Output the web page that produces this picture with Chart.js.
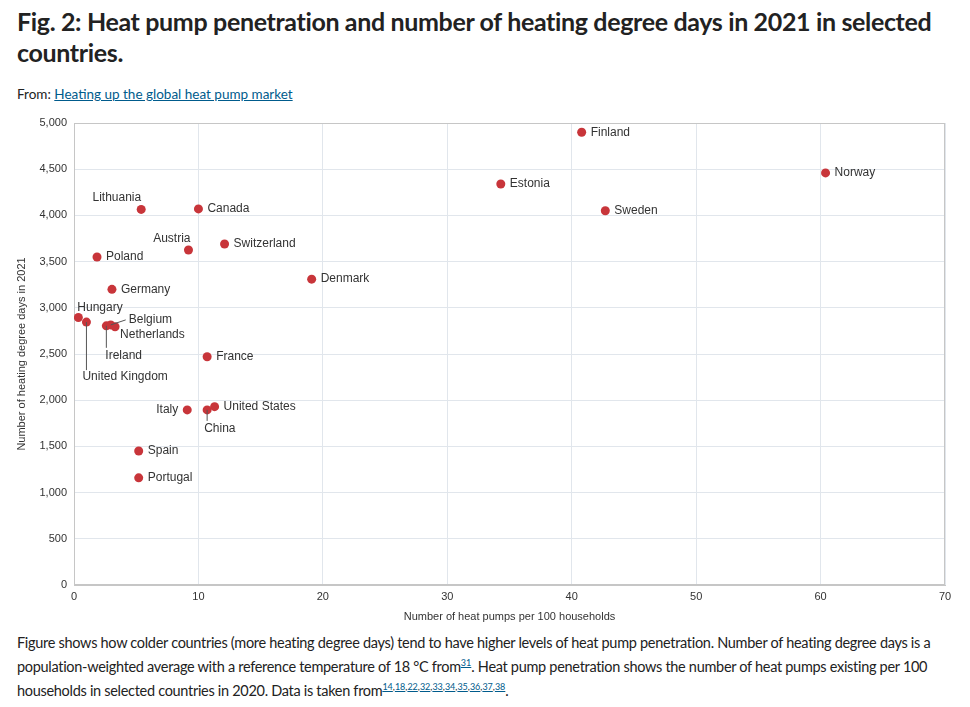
<!DOCTYPE html>
<html>
<head>
<meta charset="utf-8">
<script src="https://cdn.jsdelivr.net/npm/chart.js"></script>
<style>
  body {
    margin: 0;
    background: #fff;
    font-family: 'Lato', sans-serif;
    color: #222;
    width: 970px;
    height: 707px;
    position: relative;
    overflow: hidden;
  }
  h1 {
    position: absolute;
    left: 17px;
    top: 6px;
    margin: 0;
    width: 940px;
    font-size: 25px;
    line-height: 31px;
    font-weight: 700;
    letter-spacing: -0.35px;
  }
  .from {
    position: absolute;
    left: 17px;
    top: 86px;
    font-size: 13.5px;
  }
  a { color: #005b8c; }
  #wrap {
    position: absolute;
    left: 0;
    top: 112px;
    width: 960px;
    height: 514px;
  }
  .caption {
    position: absolute;
    left: 17px;
    top: 631px;
    width: 945px;
    font-size: 14.5px;
    line-height: 24px;
    letter-spacing: -0.3px;
    margin: 0;
  }
  sup { font-size: 9px; line-height: 0; letter-spacing: 0; }
</style>
</head>
<body>
  <h1>Fig. 2: Heat pump penetration and number of heating degree days in 2021 in selected countries.</h1>
  <div class="from">From: <a href="#">Heating up the global heat pump market</a></div>
  <div id="wrap"><canvas id="myChart"></canvas></div>
  <p class="caption">Figure shows how colder countries (more heating degree days) tend to have higher levels of heat pump penetration. Number of heating degree days is a population-weighted average with a reference temperature of 18 °C from<sup><a href="#">31</a></sup>. Heat pump penetration shows the number of heat pumps existing per 100 households in selected countries in 2020. Data is taken from<sup><a href="#">14</a>,<a href="#">18</a>,<a href="#">22</a>,<a href="#">32</a>,<a href="#">33</a>,<a href="#">34</a>,<a href="#">35</a>,<a href="#">36</a>,<a href="#">37</a>,<a href="#">38</a></sup>.</p>

<script>
var countries = ['Finland', 'Norway', 'Estonia', 'Sweden', 'Lithuania', 'Canada', 'Switzerland', 'Austria',
  'Poland', 'Denmark', 'Germany', 'Hungary', 'United Kingdom', 'Ireland', 'Belgium', 'Netherlands',
  'France', 'Italy', 'China', 'United States', 'Spain', 'Portugal'];
var heatPumps = [40.8, 60.4, 34.3, 42.7, 5.4, 10.0, 12.1, 9.2,
  1.85, 19.1, 3.05, 0.35, 1.0, 2.6, 2.95, 3.3,
  10.7, 9.1, 10.7, 11.3, 5.2, 5.2];
var degreeDays = [4900, 4460, 4340, 4050, 4065, 4070, 3690, 3625,
  3550, 3310, 3200, 2895, 2845, 2805, 2815, 2795,
  2470, 1895, 1895, 1930, 1450, 1160];

// label offsets (px) from the point; default is to the right
var placement = {
  'Lithuania': { dx: 0, dy: -12, align: 'right' },
  'Austria': { dx: 2, dy: -11, align: 'right' },
  'Hungary': { dx: -1, dy: -10, align: 'left' },
  'United Kingdom': { dx: -4, dy: 55, align: 'left', line: [0, 48] },
  'Ireland': { dx: -1, dy: 30, align: 'left', line: [0, 22] },
  'Belgium': { dx: 18, dy: -5, align: 'left', line: [15, -5] },
  'Netherlands': { dx: 5, dy: 8, align: 'left' },
  'Italy': { dx: -9, dy: 0, align: 'right' },
  'China': { dx: -3, dy: 19, align: 'left', line: [0, 11] }
};

var points = countries.map(function (c, i) { return { x: heatPumps[i], y: degreeDays[i] }; });

var labelPlugin = {
  id: 'countryLabels',
  afterDatasetsDraw: function (chart) {
    var ctx = chart.ctx;
    var meta = chart.getDatasetMeta(0);
    ctx.save();
    ctx.font = '12px "Liberation Sans", Arial, sans-serif';
    ctx.fillStyle = '#333';
    ctx.strokeStyle = '#555';
    ctx.lineWidth = 1;
    ctx.textBaseline = 'middle';
    meta.data.forEach(function (pt, i) {
      var p = placement[countries[i]] || { dx: 9, dy: 0, align: 'left' };
      if (p.line) {
        ctx.beginPath();
        ctx.moveTo(pt.x, pt.y);
        ctx.lineTo(pt.x + p.line[0], pt.y + p.line[1]);
        ctx.stroke();
      }
      ctx.textAlign = p.align;
      ctx.fillText(countries[i], pt.x + p.dx, pt.y + p.dy);
    });
    ctx.restore();
  },
  beforeDatasetsDraw: function (chart) {
    var a = chart.chartArea, ctx = chart.ctx;
    ctx.save();
    ctx.strokeStyle = '#c6c6c6';
    ctx.lineWidth = 1;
    ctx.strokeRect(a.left + 0.5, a.top + 0.5, a.right - a.left - 1, a.bottom - a.top - 1);
    ctx.restore();
  }
};

var tickFont = { family: '"Liberation Sans", Arial, sans-serif', size: 11 };

var ctx = document.getElementById('myChart').getContext('2d');
var myChart = new Chart(ctx, {
  type: 'scatter',
  data: {
    datasets: [{
      data: points,
      backgroundColor: '#c8353a',
      borderColor: '#c8353a',
      borderWidth: 0,
      pointRadius: 4.5,
      pointHoverRadius: 4.5
    }]
  },
  options: {
    responsive: true,
    maintainAspectRatio: false,
    animation: false,
    layout: { padding: { top: 11, right: 15, left: 0, bottom: 0 } },
    plugins: { legend: { display: false }, tooltip: { enabled: false } },
    scales: {
      x: {
        type: 'linear',
        min: 0,
        max: 70,
        ticks: { stepSize: 10, color: '#333', font: tickFont, padding: 5 },
        grid: { color: '#e1e6ec', drawTicks: false },
        border: { color: '#c6c6c6' },
        title: { display: true, text: 'Number of heat pumps per 100 households', color: '#333', font: tickFont, padding: { top: 4, bottom: 2 } },
        afterFit: function (scale) {
          scale.height = 41;
          scale.paddingLeft = 0;
          scale.paddingRight = 0;
        }
      },
      y: {
        min: 0,
        max: 5000,
        ticks: { stepSize: 500, color: '#333', font: tickFont, padding: 7 },
        grid: { color: '#e1e6ec', drawTicks: false },
        border: { color: '#c6c6c6' },
        title: { display: true, text: 'Number of heating degree days in 2021', color: '#333', font: tickFont, padding: { top: 15, bottom: 4 } },
        afterFit: function (scale) {
          scale.width = 74;
          scale.paddingTop = 0;
          scale.paddingBottom = 0;
        }
      }
    }
  },
  plugins: [labelPlugin]
});
</script>
</body>
</html>
